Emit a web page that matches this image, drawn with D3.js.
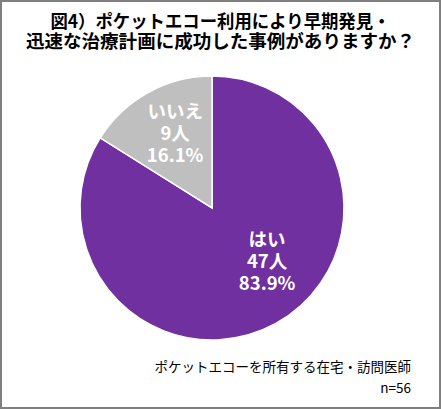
<!DOCTYPE html>
<html><head><meta charset="utf-8">
<script src="https://cdn.jsdelivr.net/npm/d3@7"></script>
<style>
html,body{margin:0;padding:0;background:#fff;}
svg{display:block;}
</style></head>
<body>
<script>
const categories = ["はい", "いいえ"];
const counts = [47, 9];
const percents = ["83.9%", "16.1%"];
const titleLines = ["図4）ポケットエコー利用により早期発見・", "迅速な治療計画に成功した事例がありますか？"];
const footerLines = ["ポケットエコーを所有する在宅・訪問医師", "n=56"];
const colors = ["#7030a0", "#bfbfbf"];

const W = 441, H = 409;
const font = "'Noto Sans CJK JP','Noto Sans',sans-serif";
const svg = d3.select("body").append("svg").attr("width", W).attr("height", H);

svg.append("rect").attr("x", 1).attr("y", 1).attr("width", W - 2).attr("height", H - 2)
  .attr("fill", "#fff").attr("stroke", "#7f7f7f").attr("stroke-width", 2);

const titleLens = [340, 389];
svg.append("g").selectAll("text").data(titleLines).join("text")
  .attr("x", W / 2).attr("y", (d, i) => 20 + i * 20)
  .attr("text-anchor", "middle").attr("dominant-baseline", "central")
  .attr("font-family", font).attr("font-weight", "bold").attr("font-size", 18)
  .attr("textLength", (d, i) => titleLens[i]).attr("lengthAdjust", "spacingAndGlyphs")
  .attr("fill", "#000").text(d => d);

const cx = 212, cy = 208, r = 132;
const pie = d3.pie().sort(null).value(d => d)(counts);
const arc = d3.arc().innerRadius(0).outerRadius(r);
const g = svg.append("g").attr("transform", `translate(${cx},${cy})`);
g.selectAll("path").data(pie).join("path")
  .attr("d", arc).attr("fill", (d, i) => colors[i])
  .attr("stroke", "#fff").attr("stroke-width", 1.5);

// label anchor points (relative to pie radius)
const labelArcs = [d3.arc().innerRadius(r * 0.55).outerRadius(r * 0.55), d3.arc().innerRadius(r * 0.64).outerRadius(r * 0.64)];
const labelShift = [[20, -12], [4, -2]];
pie.forEach((d, i) => {
  const c = labelArcs[i].centroid(d);
  const x = c[0] + labelShift[i][0];
  const y = c[1] + labelShift[i][1];
  const lines = [categories[i], counts[i] + "人", percents[i]];
  g.append("g").selectAll("text").data(lines).join("text")
    .attr("x", x).attr("y", (t, j) => y + (j - 1) * 22)
    .attr("text-anchor", "middle").attr("dominant-baseline", "central")
    .attr("font-family", font).attr("font-weight", "bold").attr("font-size", 18.5)
    .attr("fill", "#fff").text(t => t);
});

svg.append("g").selectAll("text").data(footerLines).join("text")
  .attr("x", 411).attr("y", (d, i) => 366 + i * 21)
  .attr("text-anchor", "end").attr("dominant-baseline", "central")
  .attr("font-family", font).attr("font-size", 13.5)
  .attr("fill", "#000").text(d => d);
</script>
</body></html>
